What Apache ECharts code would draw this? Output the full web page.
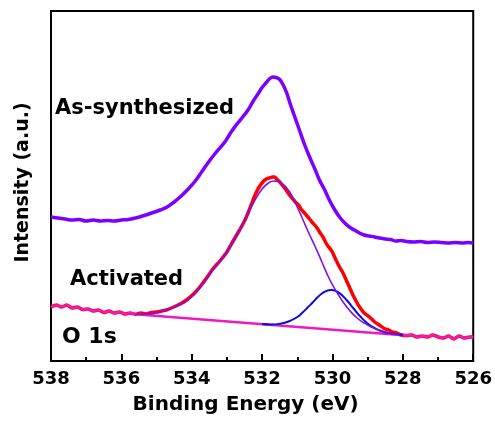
<!DOCTYPE html>
<html>
<head>
<meta charset="utf-8">
<script src="https://cdn.jsdelivr.net/npm/echarts@6/dist/echarts.min.js"></script>
<style>html,body{margin:0;padding:0;background:#fff}#c{width:495px;height:421px}</style>
</head>
<body>
<div id="c"></div>
<script>
// Binding energy (eV) / intensity (a.u., arbitrary offset units)
const xTicks = [538, 536, 534, 532, 530, 528, 526];

const asSynthesized = [
  [538,144],[537.8,143],[537.6,142],[537.4,141],[537.2,141.5],[537.0,140],[536.8,141],[536.6,140],
  [536.4,140.5],[536.2,140],[536.0,141],[535.8,141.5],[535.6,143],[535.4,145],[535.14,148],[534.9,151],
  [534.7,154],[534.5,159],[534.3,165],[534.1,172],[533.9,180],[533.7,190],[533.5,200],[533.3,209],
  [533.06,219],[532.88,229],[532.69,238],[532.55,244],[532.4,251],[532.25,260],[532.12,267],[532.0,273.5],
  [531.88,278.5],[531.78,282.5],[531.69,284],[531.6,283.5],[531.5,281.5],[531.4,276],[531.3,268],[531.2,257],
  [531.08,245],[530.94,231],[530.8,217],[530.65,204],[530.5,192],[530.37,181],[530.22,171],[530.09,161],
  [529.95,152],[529.8,144],[529.65,138],[529.52,134],[529.38,131],[529.23,128],[529.1,126],[528.95,125],
  [528.8,124],[528.67,123],[528.5,122],[528.35,121.5],[528.2,120],[528.05,120.5],[527.9,119.5],[527.7,119],
  [527.5,119.5],[527.3,118.5],[527.1,119],[526.9,118.5],[526.7,118],[526.5,118.5],[526.3,118],[526.15,118.5],
  [526.0,118]
];

const activatedLeftTail = [
  [538,54],[537.85,56],[537.7,54],[537.55,56],[537.4,53],[537.25,54],[537.1,51.5],[536.95,52],
  [536.8,50],[536.65,51],[536.5,48.5],[536.35,50],[536.2,48],[536.05,49],[535.9,47],[535.75,48],[535.6,46.8]
];
const activatedMain = [
  [535.45,48],[535.3,47],[535.15,48.5],[535.0,49],[534.85,50],[534.72,51],[534.58,53],[534.45,55],
  [534.3,57.5],[534.15,61],[533.95,67],[533.77,74],[533.6,82],[533.4,92],[533.2,100],[533.02,108],
  [532.84,119],[532.64,131],[532.5,140],[532.4,148],[532.3,157],[532.2,166],[532.1,173],[531.98,179],
  [531.88,182],[531.8,183],[531.7,184],[531.64,184],[531.56,181],[531.5,179],[531.43,176],[531.36,173],
  [531.28,169],[531.2,165],[531.1,161],[531.03,158],[530.96,156],[530.9,152],[530.82,149],[530.75,146],
  [530.65,142],[530.56,138],[530.48,135],[530.42,132],[530.35,128],[530.27,124],[530.2,119],[530.13,115],
  [530.06,112],[529.99,108],[529.9,101],[529.8,94],[529.7,88],[529.61,81],[529.52,74],[529.42,66],
  [529.33,60],[529.23,54],[529.1,48],[528.95,44],[528.8,39],[528.67,36],[528.5,32],[528.4,31],
  [528.3,29],[528.18,28]
];
const activatedRightTail = [
  [528.05,26],[527.9,25.5],[527.75,26],[527.6,24],[527.45,25],[527.3,24],[527.15,26],[527.0,24],
  [526.85,23],[526.7,25],[526.55,22],[526.4,25],[526.25,23],[526.1,24],[526.0,24]
];

const fitPeak1 = [
  [535.6,46.8],[535.2,47],[534.9,49],[534.6,52.5],[534.3,57],[534.0,64],[533.7,76],[533.4,91],
  [533.1,104],[532.8,121],[532.5,141],[532.25,158],[532.0,172],[531.8,178.5],[531.65,180],[531.45,178],
  [531.2,168],[530.95,150],[530.7,130],[530.5,115],[530.3,99],[530.1,83],[529.9,70],[529.7,59],
  [529.5,50],[529.3,43],[529.1,38],[528.9,34],[528.7,31],[528.5,29],[528.3,27.5],[528.1,26.5]
];
const fitPeak2 = [
  [532.0,36.9],[531.75,36.4],[531.5,37.2],[531.25,39.5],[531.0,44],[530.85,48.5],[530.7,53.7],[530.55,59],
  [530.4,64.5],[530.2,69.7],[530.02,71],[529.8,67.8],[529.6,61],[529.4,52.5],[529.2,44.2],[529.0,37.5],
  [528.8,32.8],[528.6,29.7],[528.4,28],[528.2,27],[528.0,26]
];
const backgroundLine = [[535.6,46.8],[527.9,25.5]];

const activated = activatedLeftTail.concat(activatedMain, activatedRightTail);
const background = activatedLeftTail.concat(backgroundLine, activatedRightTail);

const FONT = 'DejaVu Sans';
const chart = echarts.init(document.getElementById('c'), null, {renderer: 'canvas'});
chart.setOption({
  animation: false,
  backgroundColor: '#ffffff',
  grid: {left: 51, right: 21, top: 11, bottom: 60, show: true, borderColor: '#000', borderWidth: 2},
  xAxis: {
    type: 'value', inverse: true, min: 526, max: 538, interval: 2,
    name: 'Binding Energy (eV)', nameLocation: 'middle', nameGap: 34,
    nameTextStyle: {fontFamily: FONT, fontWeight: 'bold', fontSize: 20, color: '#000', padding: [0, 33, 0, 0]},
    axisLine: {lineStyle: {color: '#000', width: 2}},
    axisTick: {inside: true, length: 7, lineStyle: {color: '#000', width: 2}},
    minorTick: {show: true, splitNumber: 2, length: 4, lineStyle: {color: '#000', width: 2}},
    splitLine: {show: false},
    axisLabel: {fontFamily: FONT, fontWeight: 'bold', fontSize: 18, color: '#000', margin: 9,
      formatter: v => xTicks.includes(v) ? String(v) : ''}
  },
  yAxis: {
    type: 'value', min: 0, max: 350,
    name: 'Intensity (a.u.)', nameLocation: 'middle', nameGap: 18, nameRotate: 90,
    nameTextStyle: {fontFamily: FONT, fontWeight: 'bold', fontSize: 19, color: '#000', padding: [0, 0, 0, 7]},
    axisLine: {show: true, lineStyle: {color: '#000', width: 2}},
    axisTick: {show: false}, axisLabel: {show: false}, splitLine: {show: false}
  },
  series: [
    {name: 'As-synthesized', type: 'line', data: asSynthesized, showSymbol: false, smooth: 0.4, z: 2,
      lineStyle: {color: '#7a00ff', width: 3.5}},
    {name: 'Activated', type: 'line', data: activated, showSymbol: false, smooth: 0.2, z: 2,
      lineStyle: {color: '#ff0000', width: 3.5}},
    {name: 'Background', type: 'line', data: background, showSymbol: false, z: 3,
      lineStyle: {color: '#f018c0', width: 2.4}},
    {name: 'Peak 2', type: 'line', data: fitPeak2, showSymbol: false, smooth: true, z: 4,
      lineStyle: {color: '#0a0ae6', width: 2}},
    {name: 'Peak 1', type: 'line', data: fitPeak1, showSymbol: false, smooth: true, z: 5,
      lineStyle: {color: '#7f10f0', width: 1.6}}
  ],
  graphic: [
    {type: 'text', left: 55, top: 98, style: {text: 'As-synthesized', font: 'bold 21px "DejaVu Sans"', fill: '#000'}},
    {type: 'text', left: 70, top: 269, style: {text: 'Activated', font: 'bold 21px "DejaVu Sans"', fill: '#000'}},
    {type: 'text', left: 62, top: 326, style: {text: 'O 1s', font: 'bold 22px "DejaVu Sans"', fill: '#000'}}
  ]
});
</script>
</body>
</html>
